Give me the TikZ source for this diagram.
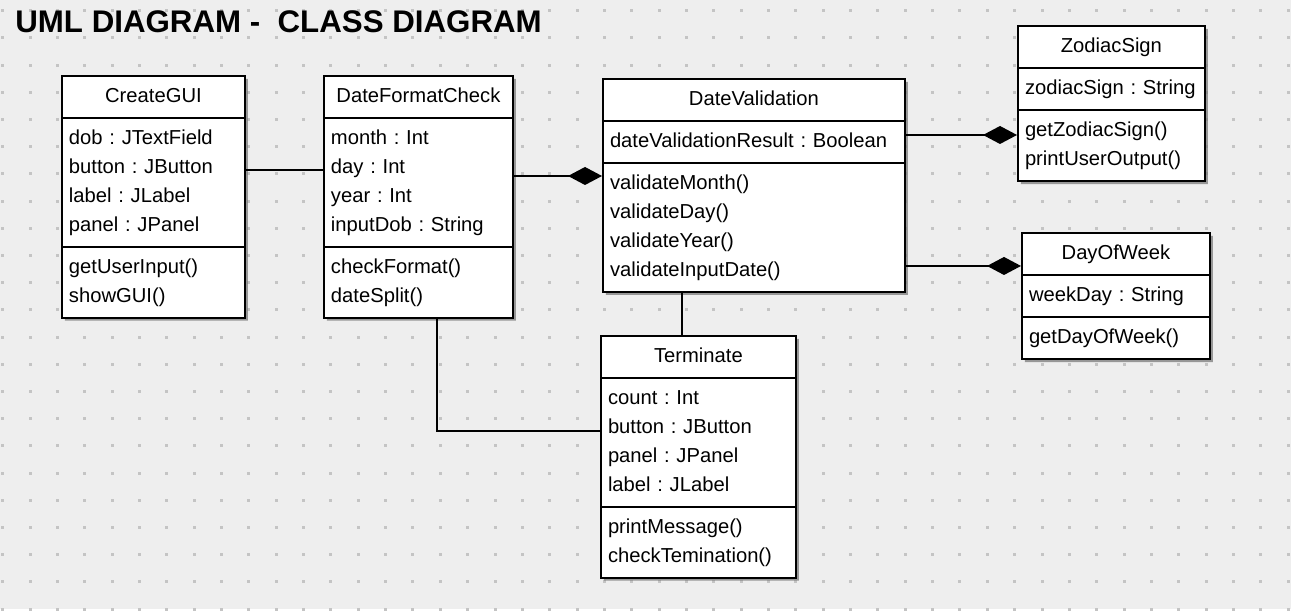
\documentclass[tikz,border=0pt]{standalone}
\usepackage{fontspec}
\setmainfont{Liberation Sans}
\usetikzlibrary{shapes.multipart,shadows,arrows.meta}
\definecolor{bgc}{RGB}{238,238,238}
\definecolor{dotc}{RGB}{196,196,196}
\newcommand{\clsname}[1]{\makebox[\hsize]{\strut #1}}

\begin{document}
\frenchspacing
\begin{tikzpicture}[x=0.02cm,y=-0.02cm,
  umlclass/.style={rectangle split,rectangle split parts=3,draw=black,line width=1.1pt,fill=white,
    inner xsep=4pt,inner ysep=3.2pt,align=left,anchor=north west,font=\fontsize{11.5}{16.44}\selectfont,
    drop shadow={shadow xshift=0.06cm,shadow yshift=-0.06cm,fill=black!55,opacity=0.7}},
  link/.style={line width=1.1pt},
  comp/.style={link,-{Diamond[length=0.68cm,width=0.36cm]}}]
% background and grid
\fill[bgc] (0,0) rectangle (1291,609);
\foreach \i in {0,...,47}
  \foreach \j in {0,...,22}
    \fill[dotc] ({1.2+27.35*\i},{9.1+27.2*\j}) rectangle +(3,3);

\node (title) at (15,32)[anchor=base west,inner sep=0pt,font=\fontsize{17.8}{20}\selectfont\bfseries]{UML DIAGRAM -\ \ CLASS DIAGRAM};

\node (cg) at (61,75)[umlclass,text width=3.378cm]{\clsname{CreateGUI}
  \nodepart{second}\strut dob : JTextField\\\strut button : JButton\\\strut label : JLabel\\\strut panel : JPanel
  \nodepart{third}\strut getUserInput()\\\strut showGUI()};
\node (dfc) at (323,75)[umlclass,text width=3.498cm]{\clsname{DateFormatCheck}
  \nodepart{second}\strut month : Int\\\strut day : Int\\\strut year : Int\\\strut inputDob : String
  \nodepart{third}\strut checkFormat()\\\strut dateSplit()};
\node (dv) at (602,78)[umlclass,text width=5.758cm]{\clsname{DateValidation}
  \nodepart{second}\strut dateValidationResult : Boolean
  \nodepart{third}\strut validateMonth()\\\strut validateDay()\\\strut validateYear()\\\strut validateInputDate()};
\node (zs) at (1017,25)[umlclass,text width=3.458cm]{\clsname{ZodiacSign}
  \nodepart{second}\strut zodiacSign : String
  \nodepart{third}\strut getZodiacSign()\\\strut printUserOutput()};
\node (dow) at (1021,232)[umlclass,text width=3.478cm]{\clsname{DayOfWeek}
  \nodepart{second}\strut weekDay : String
  \nodepart{third}\strut getDayOfWeek()};
\node (term) at (600,335)[umlclass,text width=3.618cm]{\clsname{Terminate}
  \nodepart{second}\strut count : Int\\\strut button : JButton\\\strut panel : JPanel\\\strut label : JLabel
  \nodepart{third}\strut printMessage()\\\strut checkTemination()};

\draw[link] ([yshift=-1.9cm]cg.north east)--([yshift=-1.9cm]cg.north east -| dfc.west);
\draw[comp] ([yshift=-2.02cm]dfc.north east)--([yshift=-2.02cm]dfc.north east -| dv.west);
\draw[comp] ([yshift=-1.14cm]dv.north east)--([yshift=-1.14cm]dv.north east -| zs.west);
\draw[comp] ([yshift=-3.76cm]dv.north east)--([yshift=-3.76cm]dv.north east -| dow.west);
\draw[link] ([xshift=1.6cm]dv.south west)--([xshift=1.6cm]dv.south west |- term.north);
\draw[link] ([xshift=2.28cm]dfc.south west)|-([yshift=-1.92cm]term.north west);
\end{tikzpicture}
\end{document}
